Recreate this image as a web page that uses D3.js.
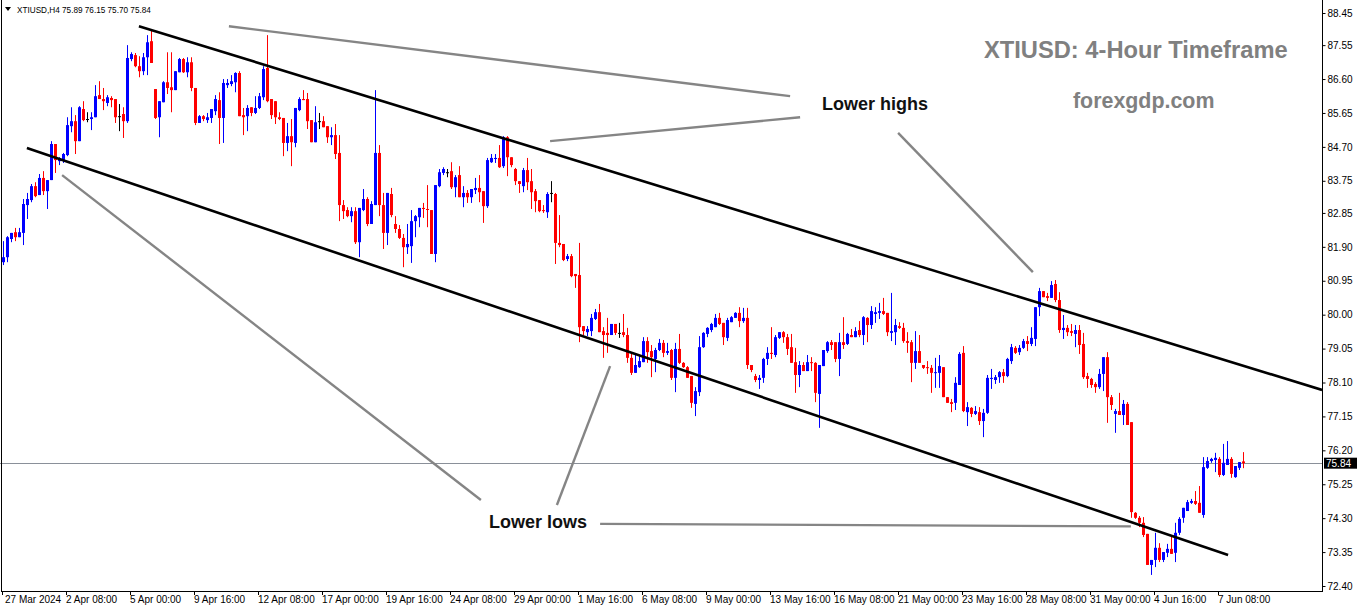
<!DOCTYPE html>
<html><head><meta charset="utf-8">
<script src="https://cdn.jsdelivr.net/npm/d3@7/dist/d3.min.js"></script>
<style>html,body{margin:0;padding:0;background:#fff;}svg{display:block;}</style>
</head><body>
<script>
// ---------- DATA (XTIUSD H4) ----------
const openP = [
81.47,81.61,82.12,82.31,82.17,82.29,83.07,83.21,83.60,83.35,
83.83,83.46,83.77,84.78,84.30,84.33,84.47,85.28,85.42,84.86,
85.76,85.48,85.48,85.53,86.15,86.04,85.93,86.07,86.04,85.56,
85.62,85.42,87.16,87.27,86.96,86.82,87.21,87.66,86.32,85.53,
85.95,86.51,86.37,86.29,86.79,87.16,86.79,87.07,86.35,85.37,
85.56,85.45,85.51,85.70,86.01,85.51,86.43,86.46,86.51,86.77,
85.59,85.56,85.81,85.65,85.79,86.09,86.91,86.04,85.98,85.53,
85.51,84.81,85.00,84.81,85.73,86.04,86.04,85.45,84.83,85.42,
85.42,85.28,84.97,85.03,84.53,83.07,82.93,82.76,82.90,82.03,
82.93,83.24,82.54,83.07,84.53,83.07,82.29,83.38,82.54,82.40,
82.15,81.89,81.92,82.62,82.73,82.99,82.96,82.93,81.70,83.60,
83.97,83.99,84.02,83.57,83.91,83.29,83.41,83.29,83.49,83.55,
83.46,83.04,84.27,84.36,84.39,84.16,84.97,84.41,84.08,83.74,
83.60,84.05,83.74,83.46,83.21,82.93,82.87,83.41,83.38,82.01,
81.98,81.56,81.64,81.14,81.11,79.68,79.51,79.54,79.88,80.07,
79.54,79.49,79.43,79.74,79.49,79.51,79.43,78.79,78.37,78.53,
78.67,79.26,78.98,78.76,79.01,79.21,78.93,79.01,78.23,79.04,
78.65,78.53,78.28,77.50,77.83,79.09,79.46,79.57,79.65,79.91,
79.77,79.35,79.79,79.91,80.05,79.82,79.91,78.59,78.28,78.17,
78.23,78.76,78.93,78.87,79.35,79.51,79.37,79.09,78.67,78.31,
78.59,78.42,78.67,78.65,77.78,78.56,78.98,79.23,79.23,78.76,
79.23,79.18,79.43,79.37,79.57,79.43,79.91,79.71,80.02,80.05,
80.10,80.05,79.49,79.51,79.68,79.63,79.26,79.23,78.65,78.98,
78.59,78.53,78.51,78.37,78.37,78.53,77.69,77.55,77.53,78.03,
78.93,77.27,77.39,77.22,77.27,77.02,77.25,78.20,78.17,78.25,
78.39,78.28,78.70,79.07,78.95,79.07,79.26,79.18,79.32,80.21,
80.66,80.52,80.47,80.86,80.41,79.57,79.63,79.54,79.46,79.57,
79.18,78.28,78.20,78.06,77.97,78.34,78.81,77.69,77.22,77.30,
77.19,77.50,76.99,74.45,74.31,74.17,73.86,72.99,73.13,73.47,
73.13,73.33,73.44,73.33,73.89,74.31,74.50,74.73,74.78,74.73,
74.39,75.71,75.90,75.93,75.96,75.51,75.79,75.96,75.45,75.71,
75.89];
const highP = [
82.06,82.20,82.29,82.43,82.43,83.24,83.41,83.66,83.71,83.94,
84.02,83.77,84.86,84.78,84.41,84.53,85.53,85.81,85.59,85.84,
85.98,85.67,85.67,86.43,86.54,86.35,86.15,86.12,86.04,85.90,
85.81,87.55,87.35,87.33,87.24,87.33,87.83,88.00,86.32,85.98,
86.54,87.35,87.35,86.82,87.19,87.19,87.21,87.21,86.35,85.59,
85.59,85.65,85.76,86.15,86.23,86.60,86.60,86.71,86.79,86.82,
85.79,85.87,85.81,86.12,86.21,86.96,87.83,86.04,85.98,85.67,
85.51,85.37,85.48,85.79,86.09,86.29,86.21,85.45,85.84,85.65,
85.56,85.28,85.25,85.34,85.03,83.21,83.01,83.01,83.01,82.99,
83.52,83.29,83.18,86.29,84.75,83.41,83.41,83.55,82.76,82.51,
82.26,82.54,82.93,82.79,82.99,83.13,83.63,82.93,83.63,84.08,
84.13,84.08,84.27,83.91,84.16,83.60,83.49,83.52,83.83,83.91,
83.46,84.39,84.50,84.50,84.75,85.00,85.00,84.41,84.11,83.74,
84.11,84.39,84.08,83.52,83.21,83.07,83.43,83.74,83.41,82.79,
81.98,81.70,81.70,81.14,82.01,79.68,79.68,80.02,80.16,80.30,
79.65,79.91,79.74,79.74,79.77,80.02,79.63,78.93,78.87,78.87,
79.37,79.37,79.15,79.07,79.32,79.29,79.21,79.04,79.21,79.46,
78.67,78.56,78.28,77.97,79.40,79.51,79.65,79.77,80.02,80.05,
79.77,79.91,79.96,80.07,80.21,80.19,80.19,78.59,78.34,78.31,
78.79,79.09,79.65,79.43,79.51,79.54,79.46,79.46,79.07,78.70,
78.67,78.87,78.81,78.67,78.59,79.01,79.26,79.29,79.23,79.49,
79.93,79.49,79.60,79.65,79.82,79.96,79.93,80.24,80.21,80.33,
80.47,80.05,80.61,79.88,79.79,79.77,79.51,79.29,79.54,79.43,
78.59,78.70,78.59,78.79,78.87,78.53,77.69,77.64,78.25,78.95,
79.12,77.55,77.41,77.44,77.41,77.36,78.31,78.48,78.31,78.42,
78.48,78.79,79.18,79.12,79.15,79.32,79.40,79.65,80.21,80.75,
80.66,80.61,80.94,80.97,80.63,79.99,79.71,79.74,79.71,79.71,
79.49,78.37,78.23,78.11,78.48,78.81,78.95,77.75,77.36,77.81,
77.61,77.55,76.99,74.47,74.36,74.33,73.86,73.13,73.89,73.60,
73.35,73.58,73.83,74.17,74.33,74.59,74.81,74.84,75.06,75.20,
76.01,76.01,75.99,76.13,76.01,76.38,76.46,76.01,75.76,75.87,
76.15];
const lowP = [
81.39,81.47,82.03,82.06,82.17,81.95,82.68,83.15,83.29,83.35,
83.35,82.96,83.77,83.97,84.19,84.25,84.44,85.11,84.50,84.86,
85.42,85.39,85.17,85.53,86.04,85.73,85.84,85.81,85.37,85.14,
84.95,85.37,87.10,86.93,86.65,86.71,86.71,87.05,85.48,84.97,
85.95,86.18,85.67,86.29,86.79,86.77,86.65,86.26,85.31,85.37,
85.42,85.37,85.37,85.59,84.78,84.81,86.35,86.40,86.23,85.56,
85.03,85.14,85.56,85.62,85.76,86.01,85.95,85.48,85.34,85.45,
84.44,84.58,84.16,84.69,85.70,86.01,85.20,84.83,84.83,85.20,
85.25,84.81,84.75,84.36,82.62,82.68,82.73,82.59,81.98,81.61,
82.90,82.48,82.54,83.07,82.76,81.84,81.95,82.73,82.29,82.12,
81.33,81.70,81.45,82.17,82.45,82.71,82.45,81.70,81.47,83.57,
83.91,83.85,83.52,83.29,83.29,83.01,83.13,83.13,83.38,83.15,
82.57,82.99,84.25,84.25,84.11,84.11,83.88,84.13,83.63,83.41,
83.43,83.49,82.96,82.87,82.87,82.85,82.71,83.15,81.42,81.89,
81.50,81.50,81.05,80.75,79.23,79.43,79.40,79.40,79.85,79.51,
78.79,78.93,79.43,79.43,79.35,79.37,78.65,78.31,78.37,78.51,
78.67,78.65,78.25,78.39,78.98,78.81,78.87,78.17,77.83,78.62,
78.51,78.23,77.39,77.16,77.72,79.07,79.37,79.51,79.65,79.71,
79.15,79.26,79.79,79.91,79.65,79.77,78.48,78.39,78.11,77.92,
78.09,78.59,78.76,78.81,79.32,79.21,78.87,78.65,77.81,77.97,
78.42,78.42,78.42,77.55,76.83,78.56,78.93,79.01,78.67,78.28,
79.04,79.15,79.37,79.37,79.37,79.15,79.23,79.60,79.77,79.88,
79.99,79.40,79.26,79.15,79.60,79.21,78.93,78.11,78.48,78.65,
78.48,78.34,77.81,77.95,77.95,77.69,77.53,77.27,77.33,78.03,
77.27,76.88,77.13,77.19,76.91,76.57,77.22,77.92,78.06,78.09,
78.09,78.25,78.62,78.90,78.87,79.04,78.98,79.12,79.12,79.96,
80.49,80.38,80.47,80.35,79.49,79.32,79.40,79.40,79.09,78.90,
78.20,77.95,77.95,77.81,77.92,77.86,76.97,77.33,76.69,77.19,
76.91,76.91,74.31,74.28,74.05,73.77,72.99,72.71,72.93,73.07,
73.07,73.21,73.30,73.07,73.83,74.17,74.50,74.70,74.67,74.45,
74.31,75.68,75.85,75.59,75.45,75.48,75.79,75.43,75.43,75.65,
75.70];
const closeP = [
81.61,82.17,82.29,82.17,82.31,83.10,83.24,83.60,83.32,83.83,
83.46,83.77,84.78,84.33,84.39,84.50,85.31,85.42,84.86,85.81,
85.45,85.48,85.53,86.12,86.04,85.98,86.09,86.01,85.53,85.56,
85.42,87.19,87.30,86.96,86.82,87.21,87.63,87.05,85.51,85.98,
86.51,86.35,86.29,86.82,87.16,86.79,87.07,86.35,85.37,85.56,
85.48,85.53,85.76,86.04,85.51,86.49,86.49,86.54,86.77,85.56,
85.53,85.79,85.65,85.79,86.12,86.88,85.98,85.59,85.53,85.48,
84.81,85.00,84.83,85.79,86.04,86.01,85.42,84.83,85.39,85.42,
85.25,84.97,85.03,84.50,83.07,82.90,82.76,82.90,82.03,82.99,
83.24,82.54,83.10,84.53,83.07,82.29,83.41,82.79,82.40,82.15,
81.89,81.98,82.62,82.76,82.99,82.96,82.95,81.70,83.63,83.99,
84.08,83.99,83.57,83.85,83.29,83.41,83.29,83.52,83.55,83.43,
83.04,84.33,84.39,84.39,84.13,84.97,84.41,84.19,83.74,83.66,
84.05,83.71,83.43,83.18,82.90,82.90,83.38,83.41,82.01,81.95,
81.53,81.64,81.08,81.08,79.65,79.54,79.60,79.91,80.07,79.51,
79.43,79.43,79.74,79.49,79.49,79.43,78.79,78.37,78.59,78.70,
79.26,78.95,78.81,79.01,79.21,78.93,78.98,78.23,79.04,78.65,
78.53,78.23,77.53,77.86,79.09,79.49,79.63,79.74,79.91,79.74,
79.37,79.85,79.93,80.05,79.82,79.91,78.59,78.45,78.17,78.23,
78.76,78.93,78.90,79.37,79.51,79.37,79.04,78.65,78.31,78.59,
78.42,78.67,78.65,77.81,78.59,79.01,79.23,79.15,78.76,79.23,
79.15,79.46,79.37,79.54,79.43,79.93,79.71,80.10,80.07,80.10,
80.02,79.51,79.54,79.71,79.63,79.26,79.21,78.65,78.98,78.65,
78.51,78.51,78.37,78.39,78.56,77.69,77.53,77.50,78.09,78.90,
77.30,77.41,77.22,77.30,77.02,77.25,78.23,78.23,78.25,78.39,
78.28,78.76,79.09,78.93,79.07,79.26,79.18,79.35,80.21,80.66,
80.49,80.47,80.83,80.41,79.57,79.63,79.51,79.49,79.57,79.15,
78.25,78.20,78.03,77.97,78.34,78.81,77.69,77.47,77.30,77.19,
77.50,76.91,74.47,74.31,74.17,73.83,72.99,73.13,73.47,73.13,
73.35,73.44,73.30,73.89,74.28,74.59,74.75,74.78,74.70,74.45,
75.73,75.90,75.96,75.99,75.51,75.85,75.96,75.54,75.76,75.87,
75.84];

const priceTicks = [88.45,87.55,86.60,85.65,84.70,83.75,82.85,81.90,80.95,80.00,79.05,78.10,77.15,76.20,75.25,74.30,73.35,72.40];
const dateLabels = ["27 Mar 2024","2 Apr 08:00","5 Apr 00:00","9 Apr 16:00","12 Apr 08:00","17 Apr 00:00","19 Apr 16:00","24 Apr 08:00","29 Apr 00:00","1 May 16:00","6 May 08:00","9 May 00:00","13 May 16:00","16 May 08:00","21 May 00:00","23 May 16:00","28 May 08:00","31 May 00:00","4 Jun 16:00","7 Jun 08:00"];
const dateLabelBars = [0,16,32,48,64,80,96,112,128,144,160,176,192,208,224,240,256,272,288,304];
const lastPrice = 75.84;
const headerText = "XTIUSD,H4 75.89 76.15 75.70 75.84";

// channel lines [barIndex, price]
const upperChannel = [[33.9, 88.08], [329.7, 77.89]];
const lowerChannel = [[5.9, 84.67], [306.2, 73.27]];
// pointer lines [barIndex, price]
const pointerLines = [
  [[56.4, 88.08], [196.7, 86.12]],
  [[136.7, 84.86], [199.2, 85.53]],
  [[223.7, 85.09], [257.4, 81.19]],
  [[14.7, 83.91], [119.4, 74.81]],
  [[151.7, 78.56], [138.4, 74.67]],
  [[149.2, 74.14], [281.9, 74.07]]
];

// ---------- CHART ----------
const W = 1362, H = 611;
const plotRight = 1322, plotBottom = 591;
const svg = d3.select("body").append("svg").attr("width", W).attr("height", H);

const x = d3.scaleLinear().domain([0, openP.length - 1]).range([3.3, 3.3 + 4 * (openP.length - 1)]);
const y = d3.scaleLinear().domain([72.40, 88.45]).range([586, 13]);

const candles = openP.map((o, i) => ({i, o, h: highP[i], l: lowP[i], c: closeP[i]}));
const colorOf = d => d.c > d.o ? "#0000ff" : (d.c < d.o ? "#ff0000" : "#000000");

svg.append("clipPath").attr("id", "plotclip").append("rect")
  .attr("x", 0).attr("y", 0).attr("width", plotRight).attr("height", plotBottom);

const plot = svg.append("g").attr("clip-path", "url(#plotclip)");

// current price line
plot.append("line")
  .attr("x1", 0).attr("x2", plotRight)
  .attr("y1", Math.round(y(lastPrice)) + 0.5).attr("y2", Math.round(y(lastPrice)) + 0.5)
  .attr("stroke", "#8a9099").attr("stroke-width", 1);

// candles
const cg = plot.append("g");
cg.selectAll("line.wick").data(candles).join("line")
  .attr("class", "wick")
  .attr("x1", d => Math.round(x(d.i)) + 0.5).attr("x2", d => Math.round(x(d.i)) + 0.5)
  .attr("y1", d => y(d.h)).attr("y2", d => y(d.l))
  .attr("stroke", colorOf).attr("stroke-width", 1);
cg.selectAll("rect.body").data(candles).join("rect")
  .attr("class", "body")
  .attr("x", d => Math.round(x(d.i)) - 1)
  .attr("width", 3)
  .attr("y", d => y(Math.max(d.o, d.c)))
  .attr("height", d => Math.max(1, Math.abs(y(d.o) - y(d.c))))
  .attr("fill", colorOf);

// channel lines
const lineGen = d3.line().x(d => x(d[0])).y(d => y(d[1]));
[upperChannel, lowerChannel].forEach(seg => {
  plot.append("path").attr("d", lineGen(seg))
    .attr("fill", "none").attr("stroke", "#000").attr("stroke-width", 2.6);
});
pointerLines.forEach(seg => {
  plot.append("path").attr("d", lineGen(seg))
    .attr("fill", "none").attr("stroke", "#858585").attr("stroke-width", 2.4);
});

// frame
svg.append("line").attr("x1", 1.5).attr("x2", 1.5).attr("y1", 0).attr("y2", plotBottom).attr("stroke", "#000");
svg.append("line").attr("x1", plotRight + 0.5).attr("x2", plotRight + 0.5).attr("y1", 0).attr("y2", plotBottom + 0.5).attr("stroke", "#000");
svg.append("line").attr("x1", 1).attr("x2", plotRight + 1).attr("y1", plotBottom + 0.5).attr("y2", plotBottom + 0.5).attr("stroke", "#000");

// price axis
const yAxis = d3.axisRight(y).tickValues(priceTicks).tickSize(3).tickPadding(2).tickFormat(d3.format(".2f"));
const ya = svg.append("g").attr("transform", `translate(${plotRight + 0.5},0)`).call(yAxis);
ya.select(".domain").remove();
ya.selectAll("text").attr("font-family", "Liberation Sans, Arial, sans-serif").attr("font-size", 10).attr("fill", "#000");
ya.selectAll("line").attr("stroke", "#000");

// last price label
const ly = y(lastPrice);
svg.append("rect").attr("x", plotRight + 2).attr("y", ly - 5.5).attr("width", 33).attr("height", 11).attr("fill", "#000");
svg.append("text").attr("x", plotRight + 4).attr("y", ly + 4).text(d3.format(".2f")(lastPrice))
  .attr("font-family", "Liberation Sans, Arial, sans-serif").attr("font-size", 10).attr("fill", "#fff");

// date axis
const xa = svg.append("g");
xa.selectAll("line").data(dateLabelBars).join("line")
  .attr("x1", d => Math.round(x(d)) - 0.5).attr("x2", d => Math.round(x(d)) - 0.5)
  .attr("y1", plotBottom).attr("y2", plotBottom + 4).attr("stroke", "#000");
xa.selectAll("text").data(dateLabels).join("text")
  .attr("x", (d, i) => Math.round(x(dateLabelBars[i])) + (i === 0 ? 2 : -1))
  .attr("y", 603)
  .text(d => d)
  .attr("font-family", "Liberation Sans, Arial, sans-serif").attr("font-size", 10).attr("fill", "#000");

// header
svg.append("path").attr("d", "M5,7 L11,7 L8,11 Z").attr("fill", "#000");
svg.append("text").attr("x", 17).attr("y", 13).text(headerText)
  .attr("font-family", "Liberation Sans, Arial, sans-serif").attr("font-size", 8.2).attr("fill", "#000");

// annotations text
const font = "Liberation Sans, Arial, sans-serif";
svg.append("text").attr("x", 984).attr("y", 58).text("XTIUSD: 4-Hour Timeframe")
  .attr("font-family", font).attr("font-weight", "bold").attr("font-size", 23.7).attr("fill", "#808080");
svg.append("text").attr("x", 1073).attr("y", 108).text("forexgdp.com")
  .attr("font-family", font).attr("font-weight", "bold").attr("font-size", 21.4).attr("fill", "#808080");
svg.append("text").attr("x", 822).attr("y", 110).text("Lower highs")
  .attr("font-family", font).attr("font-weight", "bold").attr("font-size", 18).attr("fill", "#111");
svg.append("text").attr("x", 489).attr("y", 528).text("Lower lows")
  .attr("font-family", font).attr("font-weight", "bold").attr("font-size", 18).attr("fill", "#111");
</script>
</body></html>
